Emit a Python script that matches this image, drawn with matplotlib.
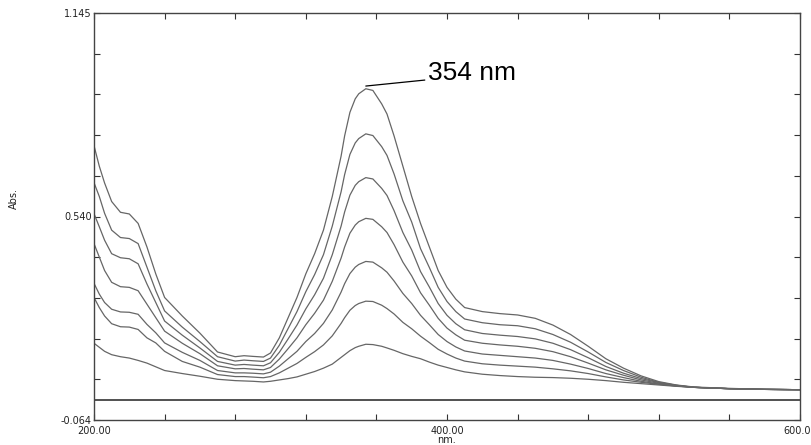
import matplotlib
matplotlib.use("Agg")
import matplotlib.pyplot as plt
import numpy as np

# wavelengths (nm)
wavelength = [200, 203, 206, 210, 215, 220, 225, 230, 235,
              240, 250, 260, 270, 280, 285, 290, 296,
              300, 305, 310, 315, 320, 325, 330, 335, 340, 342, 345, 348,
              350, 354, 358, 363, 366, 370, 375, 380, 385, 390, 395,
              400, 405, 410, 420, 430, 440, 450, 460, 470, 480,
              490, 500, 510, 520, 530, 540, 560, 580, 600]

abs_c1 = [0.164, 0.152, 0.140, 0.130, 0.124, 0.120, 0.113, 0.105, 0.094,
          0.083, 0.074, 0.066, 0.057, 0.053, 0.052, 0.051, 0.049,
          0.051, 0.055, 0.059, 0.064, 0.072, 0.080, 0.090, 0.102, 0.122, 0.130, 0.142, 0.151,
          0.155, 0.161, 0.160, 0.155, 0.150, 0.143, 0.133, 0.125, 0.118, 0.108, 0.099,
          0.092, 0.085, 0.079, 0.072, 0.068, 0.065, 0.063, 0.062, 0.060, 0.057,
          0.053, 0.048, 0.044, 0.040, 0.036, 0.033, 0.029, 0.027, 0.026]

abs_c2 = [0.300, 0.270, 0.245, 0.222, 0.213, 0.212, 0.205, 0.180, 0.165,
          0.140, 0.110, 0.093, 0.071, 0.065, 0.065, 0.0635, 0.0615,
          0.065, 0.076, 0.090, 0.104, 0.122, 0.139, 0.159, 0.186, 0.223, 0.240, 0.262, 0.276,
          0.282, 0.289, 0.288, 0.277, 0.267, 0.251, 0.226, 0.207, 0.185, 0.166, 0.146,
          0.132, 0.120, 0.111, 0.103, 0.099, 0.096, 0.093, 0.088, 0.082, 0.074,
          0.064, 0.055, 0.048, 0.042, 0.037, 0.033, 0.029, 0.027, 0.026]

abs_c3 = [0.342, 0.310, 0.285, 0.265, 0.257, 0.256, 0.250, 0.220, 0.195,
          0.165, 0.137, 0.113, 0.083, 0.076, 0.076, 0.075, 0.073,
          0.078, 0.096, 0.118, 0.140, 0.169, 0.193, 0.223, 0.263, 0.316, 0.341, 0.371, 0.390,
          0.398, 0.407, 0.405, 0.388, 0.375, 0.349, 0.312, 0.282, 0.247, 0.219, 0.190,
          0.169, 0.153, 0.141, 0.132, 0.128, 0.124, 0.120, 0.113, 0.102, 0.089,
          0.074, 0.062, 0.051, 0.043, 0.037, 0.033, 0.029, 0.027, 0.026]

abs_c4 = [0.460, 0.420, 0.380, 0.345, 0.332, 0.330, 0.320, 0.280, 0.240,
          0.200, 0.164, 0.133, 0.097, 0.088, 0.089, 0.087, 0.085,
          0.092, 0.117, 0.148, 0.180, 0.219, 0.253, 0.292, 0.348, 0.417, 0.450, 0.491, 0.515,
          0.525, 0.535, 0.532, 0.510, 0.493, 0.457, 0.405, 0.364, 0.314, 0.277, 0.238,
          0.209, 0.189, 0.173, 0.164, 0.159, 0.155, 0.149, 0.139, 0.124, 0.105,
          0.085, 0.069, 0.055, 0.045, 0.038, 0.033, 0.029, 0.027, 0.026]

abs_c5 = [0.549, 0.510, 0.470, 0.430, 0.418, 0.415, 0.400, 0.340, 0.285,
          0.230, 0.188, 0.150, 0.110, 0.099, 0.101, 0.099, 0.097,
          0.106, 0.137, 0.177, 0.218, 0.266, 0.308, 0.357, 0.427, 0.512, 0.554, 0.604, 0.633,
          0.644, 0.656, 0.652, 0.624, 0.603, 0.558, 0.493, 0.441, 0.377, 0.331, 0.282,
          0.247, 0.222, 0.204, 0.193, 0.188, 0.184, 0.177, 0.164, 0.145, 0.121,
          0.095, 0.075, 0.059, 0.047, 0.039, 0.033, 0.029, 0.027, 0.026]

abs_c6 = [0.641, 0.600, 0.550, 0.500, 0.478, 0.475, 0.460, 0.390, 0.320,
          0.260, 0.212, 0.169, 0.124, 0.111, 0.114, 0.112, 0.110,
          0.120, 0.158, 0.208, 0.258, 0.317, 0.368, 0.427, 0.512, 0.614, 0.665, 0.725, 0.759,
          0.772, 0.786, 0.781, 0.748, 0.722, 0.667, 0.587, 0.524, 0.445, 0.389, 0.330,
          0.288, 0.258, 0.236, 0.225, 0.219, 0.216, 0.207, 0.190, 0.167, 0.138,
          0.107, 0.083, 0.063, 0.048, 0.039, 0.033, 0.029, 0.027, 0.026]

abs_c7 = [0.751, 0.690, 0.640, 0.585, 0.553, 0.548, 0.520, 0.450, 0.370,
          0.300, 0.245, 0.194, 0.138, 0.124, 0.127, 0.125, 0.123,
          0.135, 0.180, 0.240, 0.300, 0.370, 0.430, 0.500, 0.600, 0.720, 0.780, 0.850, 0.890,
          0.905, 0.920, 0.915, 0.875, 0.845, 0.780, 0.690, 0.600, 0.520, 0.450, 0.380,
          0.330, 0.295, 0.270, 0.258, 0.252, 0.248, 0.238, 0.218, 0.190, 0.155,
          0.118, 0.090, 0.067, 0.050, 0.040, 0.034, 0.030, 0.027, 0.026]

blank_wavelength = [200, 600]
blank_abs = [-0.005, -0.005]

series = [abs_c1, abs_c2, abs_c3, abs_c4, abs_c5, abs_c6, abs_c7]

y_min, y_max = -0.064, 1.145
x_min, x_max = 200, 600
x_tick_labels = {200: "200.00", 400: "400.00", 600: "600.00"}
y_tick_labels = {0: "-0.064", 5: "0.540", 10: "1.145"}
peak_label = "354 nm"
peak_wavelength = 354

fig = plt.figure(figsize=(8.11, 4.45), dpi=100)
ax = fig.add_axes([94/811, 1 - 420/445, (800 - 94)/811, (420 - 13)/445])

for s in series:
    ax.plot(wavelength, s, color="#666666", lw=0.9,
            solid_joinstyle="round", solid_capstyle="round")
ax.plot(blank_wavelength, blank_abs, color="#222222", lw=1.1)

ax.set_xlim(x_min, x_max)
ax.set_ylim(y_min, y_max)

xt = np.arange(200, 601, 40)
ax.set_xticks(xt)
ax.set_xticklabels([x_tick_labels.get(int(v), "") for v in xt])
yt = np.linspace(y_min, y_max, 11)
ax.set_yticks(yt)
ax.set_yticklabels([y_tick_labels.get(i, "") for i in range(11)])

ax.tick_params(axis="both", direction="in", length=4, width=0.8, color="#333333",
               labelsize=7, top=True, right=True)
ax.tick_params(axis="x", pad=4)
ax.tick_params(axis="y", pad=1.5)
for lab in ax.get_xticklabels() + ax.get_yticklabels():
    lab.set_fontfamily("DejaVu Sans")
    lab.set_color("#222222")

for sp in ax.spines.values():
    sp.set_color("#444444")
    sp.set_linewidth(1.0)

ax.set_xlabel("nm.", fontsize=7, fontfamily="DejaVu Sans", color="#222222")
ax.xaxis.set_label_coords(0.5, -0.036)
ax.set_ylabel("Abs.", fontsize=7, fontfamily="DejaVu Sans", color="#222222")
ax.yaxis.set_label_coords(-0.106, 0.544)

peak_value = abs_c7[wavelength.index(peak_wavelength)]
ax.annotate(peak_label, xy=(peak_wavelength, peak_value + 0.008),
            xytext=(389, 0.968), textcoords="data",
            fontsize=19, fontfamily="Liberation Sans", color="black",
            ha="left", va="center",
            arrowprops=dict(arrowstyle="-", color="black", lw=0.9,
                            shrinkA=0, shrinkB=0, relpos=(0.0, 0.2)))

fig.savefig("out.png", dpi=100)
